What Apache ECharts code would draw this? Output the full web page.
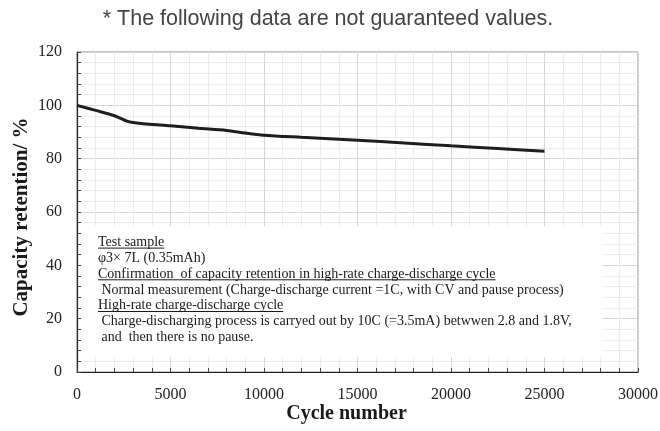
<!DOCTYPE html>
<html>
<head>
<meta charset="utf-8">
<script src="https://cdn.jsdelivr.net/npm/echarts@6/dist/echarts.min.js"></script>
<style>html,body{margin:0;padding:0;background:#fff;}#c{width:660px;height:431px;}</style>
</head>
<body>
<div id="c"></div>
<script>
// ---- data ----
const cycles = [0, 1000, 2000, 2700, 3200, 5000, 6500, 8000, 9000, 10000, 12000, 15000, 17500, 20000, 22500, 25000];
const retention = [100, 98.1, 96.1, 94.0, 93.4, 92.3, 91.4, 90.6, 89.6, 88.8, 88.0, 86.9, 85.9, 84.8, 83.8, 82.8];
const xTicks = { min: 0, max: 30000, step: 5000 };
const yTicks = { min: 0, max: 120, step: 20 };
const noteText = '* The following data are not guaranteed values.';
const xTitle = 'Cycle number';
const yTitle = 'Capacity retention/ %';
const boxLines = [
  { text: 'Test sample', underline: true },
  { text: 'φ3× 7L (0.35mAh)', underline: false },
  { text: 'Confirmation  of capacity retention in high-rate charge-discharge cycle', underline: true },
  { text: ' Normal measurement (Charge-discharge current =1C, with CV and pause process)', underline: false },
  { text: 'High-rate charge-discharge cycle', underline: true },
  { text: ' Charge-discharging process is carryed out by 10C (=3.5mA) betwwen 2.8 and 1.8V,', underline: false },
  { text: ' and  then there is no pause.', underline: false }
];

const SERIF = '"Liberation Serif", "Times New Roman", serif';
const chart = echarts.init(document.getElementById('c'), null, { renderer: 'canvas' });

const boxFont = '14px ' + SERIF;
const ctx = document.createElement('canvas').getContext('2d');
ctx.font = boxFont;
function tw(t) { return ctx.measureText(t).width; }
function lead(t) { const m = t.match(/^ */)[0]; return m.length ? tw(m) : 0; }

const graphics = [
  { type: 'rect', z: 1, shape: { x: 78, y: 226, width: 525, height: 131 }, style: { fill: '#fff' }, silent: true },
  { type: 'text', z: 10, x: 328, y: 19, style: { text: noteText, font: '21.5px "Liberation Sans", Arial, sans-serif', fill: '#444', align: 'center', verticalAlign: 'middle' } }
];
const bx = 98, by0 = 242.3, dy = 15.85;
boxLines.forEach((ln, i) => {
  const y = by0 + i * dy;
  graphics.push({ type: 'text', z: 10, x: bx, y: y, style: { text: ln.text, font: boxFont, fill: '#1a1a1a', align: 'left', verticalAlign: 'middle' } });
  if (ln.underline) {
    const x0 = bx + lead(ln.text);
    graphics.push({ type: 'line', z: 10, shape: { x1: x0, y1: y + 5.8, x2: bx + tw(ln.text), y2: y + 5.8 }, style: { stroke: '#1a1a1a', lineWidth: 1 } });
  }
});

const labelStyle = { fontFamily: SERIF, fontSize: 16, color: '#222', formatter: v => String(v) };

const option = {
  backgroundColor: '#fff',
  animation: false,
  grid: { left: 77, right: 22, top: 52, bottom: 59, outerBoundsMode: 'none', containLabel: false, show: true, borderColor: '#8c8c8c', borderWidth: 1, backgroundColor: 'transparent' },
  graphic: graphics,
  xAxis: [
    {
      type: 'value', min: xTicks.min, max: xTicks.max, interval: xTicks.step, z: 0,
      axisLine: { show: false }, axisTick: { show: false },
      axisLabel: Object.assign({ margin: 15 }, labelStyle),
      splitLine: { show: true, lineStyle: { color: '#d6d6d6', width: 1 } },
      minorTick: { show: false, splitNumber: 5 },
      minorSplitLine: { show: true, lineStyle: { color: '#ececec', width: 1 } },
      name: xTitle, nameLocation: 'middle', nameGap: 32, nameMoveOverlap: false,
      nameTextStyle: { fontFamily: SERIF, fontSize: 20, fontWeight: 'bold', color: '#1a1a1a', padding: [0, 22, 0, 0] }
    },
    {
      type: 'value', min: xTicks.min, max: xTicks.max, interval: xTicks.step, z: 3, position: 'bottom',
      axisLine: { show: true, lineStyle: { color: '#222', width: 1.2 } },
      axisTick: { show: true, inside: true, length: 4, lineStyle: { color: '#444' } },
      minorTick: { show: true, splitNumber: 5, length: 4, lineStyle: { color: '#444' } },
      axisLabel: { show: false }, splitLine: { show: false }
    }
  ],
  yAxis: [
    {
      type: 'value', min: yTicks.min, max: yTicks.max, interval: yTicks.step, z: 0,
      axisLine: { show: false }, axisTick: { show: false },
      axisLabel: Object.assign({ margin: 15 }, labelStyle),
      splitLine: { show: true, lineStyle: { color: '#d6d6d6', width: 1 } },
      minorTick: { show: false, splitNumber: 5 },
      minorSplitLine: { show: true, lineStyle: { color: '#ececec', width: 1 } },
      name: yTitle, nameLocation: 'middle', nameGap: 45, nameMoveOverlap: false,
      nameTextStyle: { fontFamily: SERIF, fontSize: 21, fontWeight: 'bold', color: '#1a1a1a', padding: [0, 10, 0, 0] }
    },
    {
      type: 'value', min: yTicks.min, max: yTicks.max, interval: yTicks.step, z: 3, position: 'left',
      axisLine: { show: true, lineStyle: { color: '#222', width: 1.2 } },
      axisTick: { show: true, inside: true, length: 4, lineStyle: { color: '#444' } },
      minorTick: { show: true, splitNumber: 5, length: 4, lineStyle: { color: '#444' } },
      axisLabel: { show: false }, splitLine: { show: false }
    }
  ],
  series: [
    {
      type: 'line', xAxisIndex: 0, yAxisIndex: 0, z: 5,
      data: cycles.map((c, i) => [c, retention[i]]),
      showSymbol: false, smooth: 0.3,
      lineStyle: { color: '#1e1e1e', width: 3 }
    }
  ]
};
chart.setOption(option);
</script>
</body>
</html>
